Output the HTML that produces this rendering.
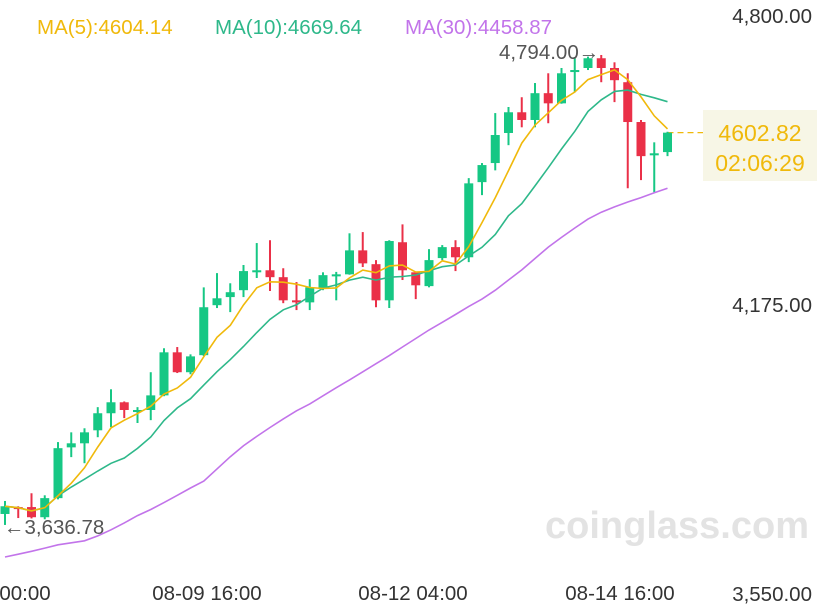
<!DOCTYPE html>
<html><head><meta charset="utf-8"><style>
body{margin:0;background:#fff;}
svg{display:block;font-family:"Liberation Sans",sans-serif;}
</style></head><body>
<svg id="chart" width="828" height="614" viewBox="0 0 828 614" xmlns="http://www.w3.org/2000/svg">
<text x="677" y="538" text-anchor="middle" font-size="38" font-weight="bold" fill="#e3e3e3">coinglass.com</text>
<g font-size="20.5">
<text x="37" y="34" fill="#f0b90b">MA(5):4604.14</text>
<text x="215" y="34" fill="#2eb88a">MA(10):4669.64</text>
<text x="405" y="34" fill="#c274ea">MA(30):4458.87</text>
</g>
<g font-size="20.5" fill="#333" text-anchor="end">
<text x="812" y="23">4,800.00</text>
<text x="812" y="312">4,175.00</text>
<text x="812" y="601">3,550.00</text>
</g>
<g font-size="20.5" fill="#333" text-anchor="middle">
<text x="25" y="600">00:00</text>
<text x="207" y="600">08-09 16:00</text>
<text x="413" y="600">08-12 04:00</text>
<text x="620" y="600">08-14 16:00</text>
</g>
<g id="plot"></g>
</svg>
<script>
const opens=[3664,3681,3681,3656,3703,3828,3838,3870,3912,3939,3915,3920,3956,4062,4013,4055,4178,4198,4215,4259,4264,4247,4190,4185,4220,4249,4254,4313,4279,4190,4333,4259,4225,4294,4321,4296,4481,4528,4602,4653,4634,4700,4675,4752,4762,4786,4762,4727,4629,4547,4555];
const highs=[3696,3683,3715,3710,3841,3865,3875,3927,3971,3941,3927,4013,4072,4075,4057,4222,4257,4232,4277,4331,4338,4269,4235,4242,4259,4260,4355,4358,4289,4338,4377,4261,4316,4326,4338,4491,4528,4651,4666,4690,4725,4749,4762,4789,4790,4794,4776,4749,4634,4579,4605];
const lows=[3637,3654,3653,3651,3700,3804,3789,3853,3878,3900,3888,3895,3954,4011,4008,4053,4171,4161,4198,4245,4213,4183,4166,4166,4215,4190,4253,4272,4173,4171,4240,4193,4222,4289,4262,4284,4449,4510,4572,4616,4616,4626,4674,4702,4757,4727,4678,4466,4486,4456,4545];
const closes=[3683,3676,3656,3703,3826,3838,3865,3912,3939,3920,3920,3956,4062,4013,4052,4173,4195,4210,4262,4264,4247,4190,4185,4222,4252,4254,4313,4281,4190,4336,4264,4227,4289,4321,4296,4478,4523,4597,4653,4634,4700,4675,4749,4757,4786,4762,4732,4629,4545,4552,4602.82];
const ma30=[3558,3565,3572,3580,3588,3593,3598,3610,3625,3642,3660,3675,3692,3710,3728,3745,3775,3805,3832,3855,3877,3898,3918,3935,3955,3975,3994,4014,4034,4054,4075,4096,4117,4136,4155,4175,4193,4215,4240,4265,4293,4321,4345,4368,4390,4407,4420,4432,4443,4455,4466];
const lastPrice=4602.82;
const NS="http://www.w3.org/2000/svg";
const plot=document.getElementById('plot');
function X(i){return 5+i*13.25;}
function Y(p){return 55+(4794-p)/2.462;}
function mk(t,a){const e=document.createElementNS(NS,t);for(const k in a)e.setAttribute(k,a[k]);plot.appendChild(e);return e;}
function ma(n){return closes.map((c,i)=>{const s=closes.slice(Math.max(0,i-n+1),i+1);return s.reduce((a,b)=>a+b,0)/s.length;});}
let lp=mk('line',{x1:X(closes.length-1),x2:712,y1:Y(lastPrice),y2:Y(lastPrice),stroke:'#f0b90b','stroke-width':1.2,'stroke-dasharray':'6,4'});


closes.forEach((c,i)=>{
  const up=c>=opens[i];const col=up?'#16c784':'#ea3048';
  const w=mk('line',{x1:X(i),x2:X(i),y1:Y(highs[i]),y2:Y(lows[i]),stroke:col,'stroke-width':2});
  
  
  const t=Y(Math.max(c,opens[i])),b=Y(Math.min(c,opens[i]));
  const r=mk('rect',{x:X(i)-4.5,y:t,width:9,height:Math.max(2,b-t),fill:col});
  
  
});
function line(vals,col,name){
  const d=vals.map((v,i)=>(i?'L':'M')+X(i).toFixed(1)+','+Y(v).toFixed(1)).join('');
  const p=mk('path',{d:d,fill:'none',stroke:col,'stroke-width':1.6});
  
  
}
line(ma30,'#c274ea','ma30-line');
line(ma(10),'#2eb88a','ma10-line');
line(ma(5),'#f0b90b','ma5-line');
const lo=mk('text',{x:4,y:Y(Math.min(...lows))+9,'font-size':20.5,fill:'#555'});
lo.textContent='←3,636.78';


const hi=mk('text',{x:X(45)-2,y:Y(Math.max(...highs))+4,'font-size':20.5,fill:'#555','text-anchor':'end'});
hi.textContent='4,794.00→';


const bx=mk('rect',{x:703,y:110,width:114,height:71,fill:'#f7f6e6'});


const t1=mk('text',{x:760,y:141,'font-size':23,fill:'#f0b90b','text-anchor':'middle'});
t1.textContent='4602.82';


const t2=mk('text',{x:760,y:171,'font-size':23,fill:'#f0b90b','text-anchor':'middle'});
t2.textContent='02:06:29';


</script>
</body></html>
